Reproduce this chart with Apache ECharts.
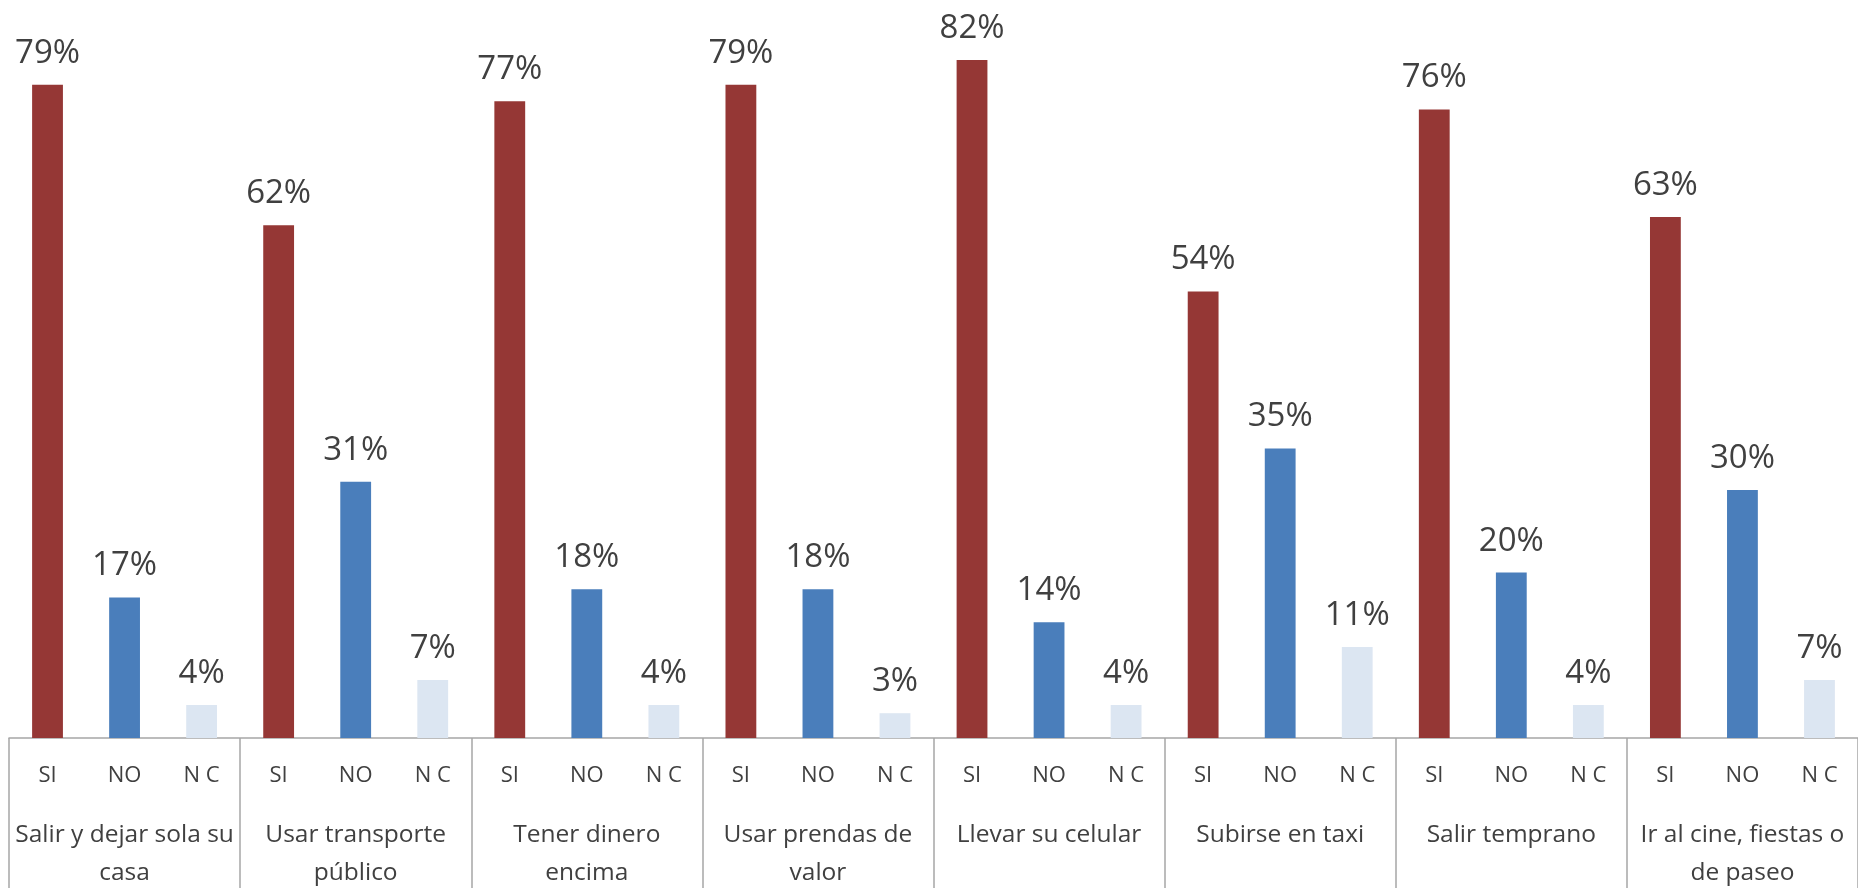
<!DOCTYPE html>
<html>
<head>
<meta charset="utf-8">
<script src="https://cdn.jsdelivr.net/npm/echarts@6/dist/echarts.min.js"></script>
<style>
html,body{margin:0;padding:0;background:#fff;}
#chart{width:1858px;height:892px;}
</style>
</head>
<body>
<div id="chart"></div>
<script>
const groups = ["Salir y dejar sola su\ncasa", "Usar transporte\npúblico", "Tener dinero\nencima", "Usar prendas de\nvalor", "Llevar su celular", "Subirse en taxi", "Salir temprano", "Ir al cine, fiestas o\nde paseo"];
const answers = ["SI", "NO", "N C"];
const si = [79, 62, 77, 79, 82, 54, 76, 63];
const no = [17, 31, 18, 18, 14, 35, 20, 30];
const nc = [4, 7, 4, 3, 4, 11, 4, 7];
const colors = ["#953735", "#4a7ebb", "#dce6f2"];

const cats = [];
const data = [];
groups.forEach((g, i) => {
  [si[i], no[i], nc[i]].forEach((v, k) => {
    cats.push(answers[k]);
    data.push({ value: v, itemStyle: { color: colors[k] } });
  });
});

const font = "'Open Sans', 'Noto Sans', sans-serif";
const chart = echarts.init(document.getElementById('chart'));
chart.setOption({
  animation: false,
  grid: { left: 9, right: -5, top: 0, bottom: 145 },
  xAxis: [
    {
      type: 'category',
      data: cats,
      axisLine: { lineStyle: { color: '#a6a6a6', width: 1.5 } },
      axisTick: {
        show: true,
        length: 150,
        interval: function (index) { return index % 3 === 0; },
        lineStyle: { color: '#a6a6a6', width: 1.5 }
      },
      axisLabel: {
        interval: 0,
        margin: 27,
        fontFamily: font,
        fontSize: 22,
        color: '#404040'
      }
    },
    {
      type: 'category',
      data: groups,
      position: 'bottom',
      axisLine: { show: false },
      axisTick: { show: false },
      axisLabel: {
        interval: 0,
        margin: 78,
        fontFamily: font,
        fontSize: 24.5,
        lineHeight: 38,
        color: '#404040'
      }
    }
  ],
  yAxis: {
    type: 'value',
    min: 0,
    max: 89.25,
    show: false,
    splitLine: { show: false }
  },
  series: [{
    type: 'bar',
    xAxisIndex: 0,
    data: data,
    barWidth: '40%',
    label: {
      show: true,
      position: 'top',
      distance: 15,
      formatter: '{c}%',
      fontFamily: font,
      fontSize: 33,
      color: '#404040'
    }
  }]
});
</script>
</body>
</html>
